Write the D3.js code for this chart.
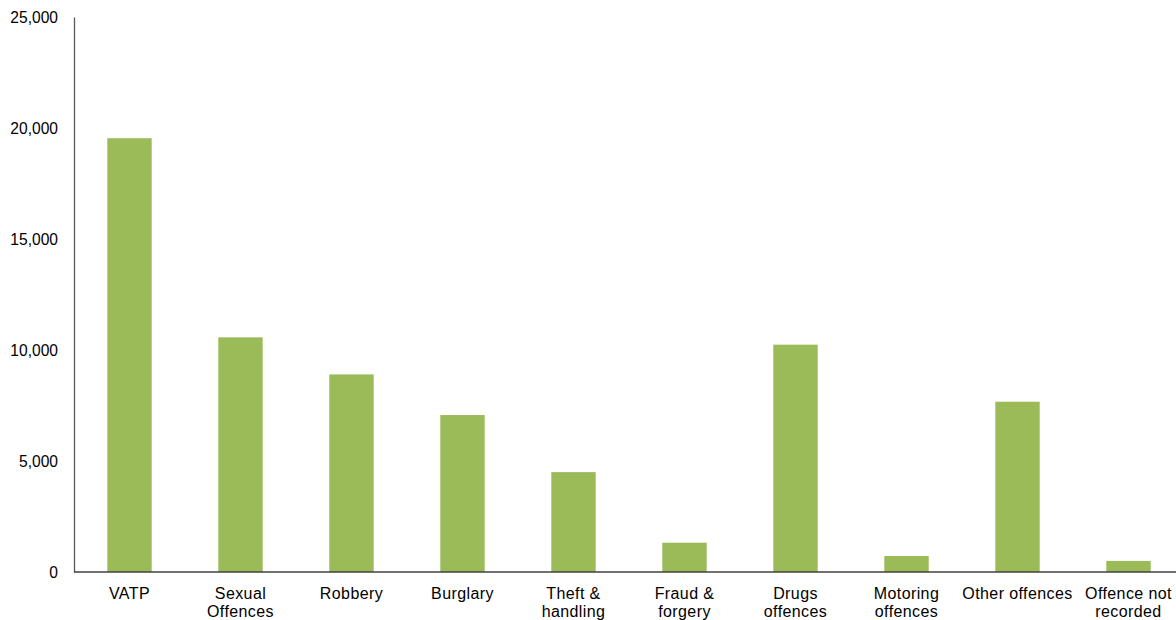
<!DOCTYPE html>
<html>
<head>
<meta charset="utf-8">
<script src="https://cdn.jsdelivr.net/npm/d3@7"></script>
<style>
  html, body { margin: 0; padding: 0; background: #fff; }
  svg { display: block; }
  text { font-family: "Liberation Sans", Arial, sans-serif; }
</style>
</head>
<body>
<svg id="chart" width="1176" height="620"></svg>
<script>
const categories = [
  ["VATP"],
  ["Sexual", "Offences"],
  ["Robbery"],
  ["Burglary"],
  ["Theft &", "handling"],
  ["Fraud &", "forgery"],
  ["Drugs", "offences"],
  ["Motoring", "offences"],
  ["Other offences"],
  ["Offence not", "recorded"]
];
const values = [19540, 10570, 8900, 7070, 4500, 1320, 10240, 720, 7670, 500];
const yTicks = [0, 5000, 10000, 15000, 20000, 25000];

const svg = d3.select("#chart");
const plotLeft = 74, plotRight = 1184, plotTop = 17, plotBottom = 572;

const x = d3.scaleBand()
  .domain(d3.range(categories.length))
  .range([plotLeft, plotRight])
  .paddingInner(0.6)
  .paddingOuter(0.3);

const y = d3.scaleLinear().domain([0, 25000]).range([plotBottom, plotTop]);

// bars
svg.append("g").selectAll("rect")
  .data(values)
  .join("rect")
  .attr("x", (d, i) => x(i))
  .attr("width", x.bandwidth())
  .attr("y", d => y(d))
  .attr("height", d => y(0) - y(d))
  .attr("fill", "#9BBB59");

// y axis
const yAxis = svg.append("g")
  .attr("transform", `translate(${plotLeft},0)`)
  .call(d3.axisLeft(y).tickValues(yTicks).tickSize(0).tickPadding(16)
    .tickFormat(d3.format(",")));
yAxis.select(".domain").attr("stroke", "#595959").attr("stroke-width", 1.3);
yAxis.selectAll("text")
  .attr("font-size", 15.6)
  .attr("fill", "#000")
  .style("font-family", "'Liberation Sans', Arial, sans-serif");

// x axis
const xAxis = svg.append("g")
  .attr("transform", `translate(0,${plotBottom})`)
  .call(d3.axisBottom(x).tickSize(0).tickFormat(""));
xAxis.select(".domain").attr("stroke", "#404040").attr("stroke-width", 1.5)
  .attr("d", `M${plotLeft},0H1176`);

const lbl = svg.append("g");
categories.forEach((lines, i) => {
  const t = lbl.append("text")
    .attr("x", x(i) + x.bandwidth() / 2)
    .attr("y", 599)
    .attr("text-anchor", "middle")
    .attr("font-size", 16)
    .attr("letter-spacing", 0.4)
    .attr("fill", "#000");
  lines.forEach((ln, j) => {
    t.append("tspan")
      .attr("x", x(i) + x.bandwidth() / 2)
      .attr("dy", j === 0 ? 0 : 18)
      .text(ln);
  });
});
</script>
</body>
</html>
